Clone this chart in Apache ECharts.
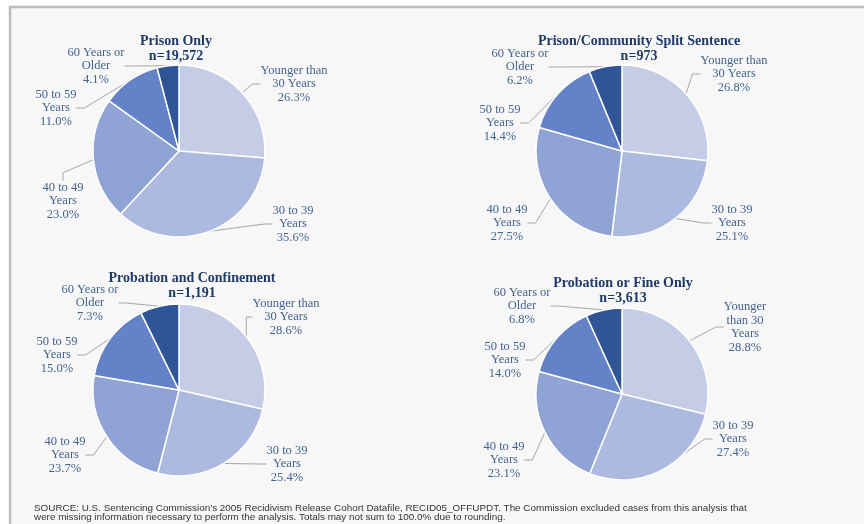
<!DOCTYPE html>
<html>
<head>
<meta charset="utf-8">
<script src="https://cdn.jsdelivr.net/npm/echarts@6/dist/echarts.min.js"></script>
<style>
  html, body { margin: 0; padding: 0; background: #fff; }
  #main { width: 864px; height: 524px; }
</style>
</head>
<body>
<div id="main"></div>
<script>
var chart = echarts.init(document.getElementById('main'));

// data
var groups = ['Younger than 30 Years', '30 to 39 Years', '40 to 49 Years', '50 to 59 Years', '60 Years or Older'];
var titles = ['Prison Only', 'Prison/Community Split Sentence', 'Probation and Confinement', 'Probation or Fine Only'];
var counts = ['n=19,572', 'n=973', 'n=1,191', 'n=3,613'];
var prisonOnly = [26.3, 35.6, 23.0, 11.0, 4.1];
var splitSentence = [26.8, 25.1, 27.5, 14.4, 6.2];
var probConfine = [28.6, 25.4, 23.7, 15.0, 7.3];
var probFine = [28.8, 27.4, 23.1, 14.0, 6.8];
var allValues = [prisonOnly, splitSentence, probConfine, probFine];

// label text per group (line breaks as in the picture)
var labelNames = [
    ['Younger than\n30 Years', '30 to 39\nYears', '40 to 49\nYears', '50 to 59\nYears', '60 Years or\nOlder'],
    ['Younger than\n30 Years', '30 to 39\nYears', '40 to 49\nYears', '50 to 59\nYears', '60 Years or\nOlder'],
    ['Younger than\n30 Years', '30 to 39\nYears', '40 to 49\nYears', '50 to 59\nYears', '60 Years or\nOlder'],
    ['Younger\nthan 30\nYears', '30 to 39\nYears', '40 to 49\nYears', '50 to 59\nYears', '60 Years or\nOlder']
];

// layout
var colors = ['#c5cde6', '#adbadf', '#8fa3d4', '#6382c8', '#2f5597'];
var centers = [[179, 151], [622, 151], [179, 390], [622, 394]];
var titlePos = [[176, 34], [639, 34], [192, 271], [623, 276]];
var labelPos = [
    [[294, 84], [293, 224], [63, 201], [56, 108], [96, 66]],
    [[734, 74], [732, 223], [507, 223], [500, 123], [520, 67]],
    [[286, 317], [287, 464], [65, 455], [57, 355], [90, 303]],
    [[745, 327], [733, 439], [504, 460], [505, 360], [522, 306]]
];

var serif = '"Liberation Serif", "DejaVu Serif", serif';

var series = [];
var title = [];
for (var s = 0; s < 4; s++) {
    var data = [];
    for (var i = 0; i < groups.length; i++) {
        data.push({
            name: groups[i],
            value: allValues[s][i],
            label: {formatter: labelNames[s][i] + '\n' + allValues[s][i].toFixed(1) + '%'}
        });
    }
    series.push({
        type: 'pie',
        center: centers[s],
        radius: 86,
        startAngle: 90,
        clockwise: true,
        animation: false,
        silent: true,
        itemStyle: {borderColor: '#ffffff', borderWidth: 1.5},
        label: {
            show: true,
            color: '#44638f',
            fontFamily: serif,
            fontSize: 12.5,
            lineHeight: 13.5,
            align: 'center'
        },
        labelLine: {
            show: true,
            length: 10,
            length2: 8,
            lineStyle: {color: '#a6a6a6', width: 1}
        },
        labelLayout: (function (pos) {
            return function (params) {
                var p = pos[params.dataIndex];
                return {x: p[0], y: p[1], align: 'center', verticalAlign: 'middle'};
            };
        })(labelPos[s]),
        data: data
    });
    title.push({
        text: titles[s] + '\n' + counts[s],
        left: titlePos[s][0],
        top: titlePos[s][1],
        textAlign: 'center',
        padding: 0,
        textStyle: {
            color: '#1f3a68',
            fontFamily: serif,
            fontWeight: 'bold',
            fontSize: 14,
            lineHeight: 15
        }
    });
}

option = {
    backgroundColor: '#ffffff',
    color: colors,
    title: title,
    graphic: [
        {
            type: 'rect',
            z: -10,
            shape: {x: 10, y: 7, width: 860, height: 520},
            style: {fill: '#f7f7f7', stroke: '#bdbdbd', lineWidth: 2.5}
        },
        {
            type: 'text',
            left: 34,
            top: 503,
            style: {
                text: 'SOURCE: U.S. Sentencing Commission\u2019s 2005 Recidivism Release Cohort Datafile, RECID05_OFFUPDT. The Commission excluded cases from this analysis that\nwere missing information necessary to perform the analysis. Totals may not sum to 100.0% due to rounding.',
                fill: '#333333',
                font: '9.9px "Liberation Sans", sans-serif',
                lineHeight: 9
            }
        }
    ],
    series: series
};
chart.setOption(option);
</script>
</body>
</html>
